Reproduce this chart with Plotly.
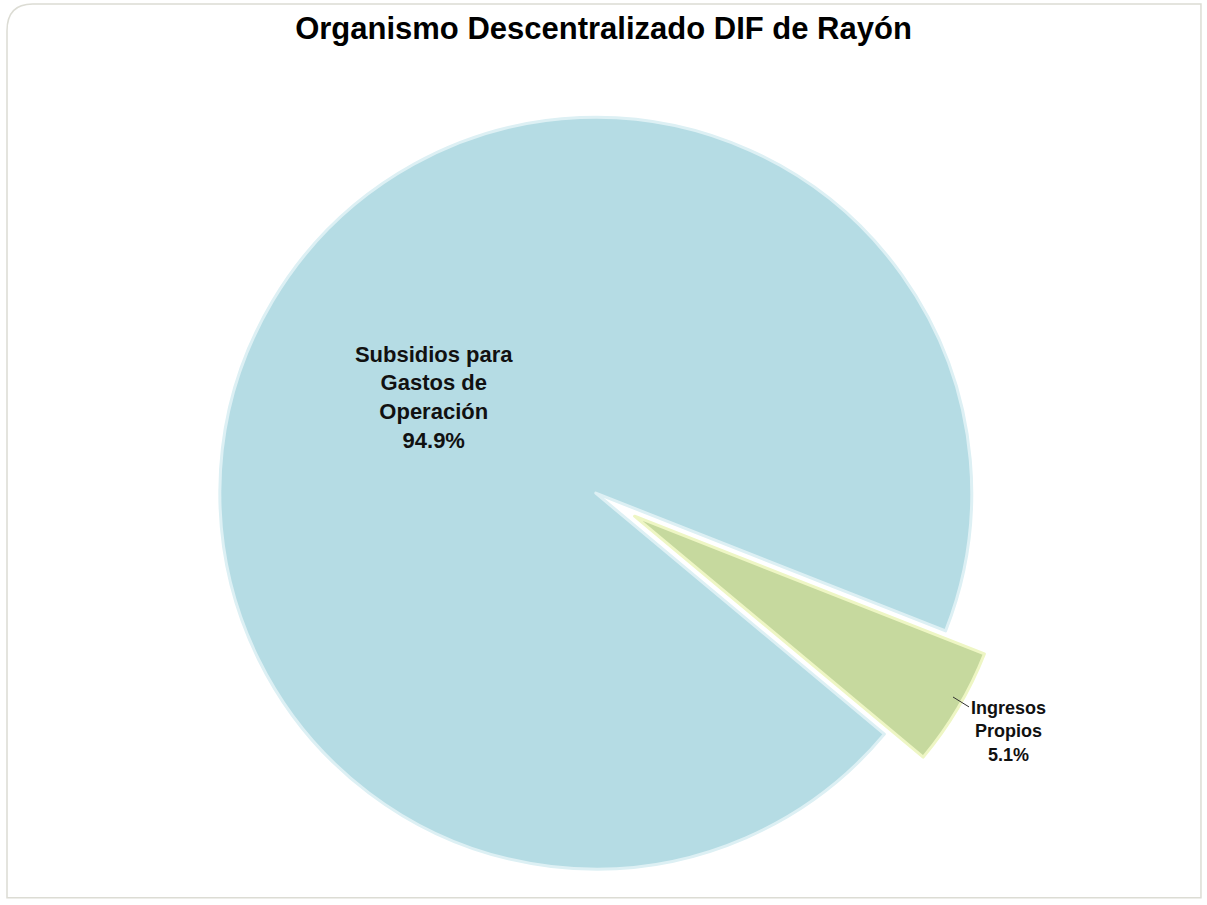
import plotly.graph_objects as go

title = "Organismo Descentralizado DIF de Rayón"
categories = ["Ingresos<br>Propios", "Subsidios para<br>Gastos de<br>Operación"]
values = [5.1, 94.9]
colors = ["#C6D99E", "#B5DCE4"]
edge_colors = ["#EEF6C4", "#DDF0F4"]

FONT = "Liberation Sans, Arial, sans-serif"

fig = go.Figure()
fig.add_trace(go.Pie(
    labels=categories,
    values=values,
    sort=False,
    direction="clockwise",
    rotation=111.5,
    pull=[0.07, 0.05],
    marker=dict(colors=colors, line=dict(color=edge_colors, width=3)),
    texttemplate=["", "<b>%{label}<br>%{percent:.1%}</b>"],
    textposition=["none", "inside"],
    insidetextorientation="horizontal",
    textfont=dict(family=FONT, size=22, color="#111111"),
    domain=dict(x=[0.172, 0.842], y=[0.0, 0.889]),
    showlegend=False,
    hoverinfo="label+percent",
))

fig.add_annotation(
    x=953 / 1207, y=1 - 697 / 905, xref="paper", yref="paper",
    text="<b>" + categories[0] + "<br>" + f"{values[0]:.1f}%" + "</b>",
    showarrow=True, arrowhead=0, arrowwidth=1, arrowcolor="#333333",
    ax=55, ay=34, align="center",
    font=dict(family=FONT, size=18, color="#111111"),
)

fig.update_layout(
    width=1207, height=905,
    margin=dict(l=0, r=0, t=0, b=0),
    paper_bgcolor="white",
    title=dict(text="<b>" + title + "</b>", x=0.5, xanchor="center", y=1 - 28 / 905, yanchor="middle",
               font=dict(family=FONT, size=31, color="#000000")),
    shapes=[dict(
        type="path", xref="paper", yref="paper",
        path="M 0.0058,0.966 L 0.0058,0.008 L 0.995,0.008 L 0.995,0.9956 L 0.027,0.9956 Q 0.0058,0.9956 0.0058,0.966 Z",
        line=dict(color="#DCDCD4", width=1.5), fillcolor="rgba(0,0,0,0)", layer="below",
    )],
)

fig.write_html("out.html", config={"displayModeBar": False},
               post_script="document.body.style.margin='0';")
